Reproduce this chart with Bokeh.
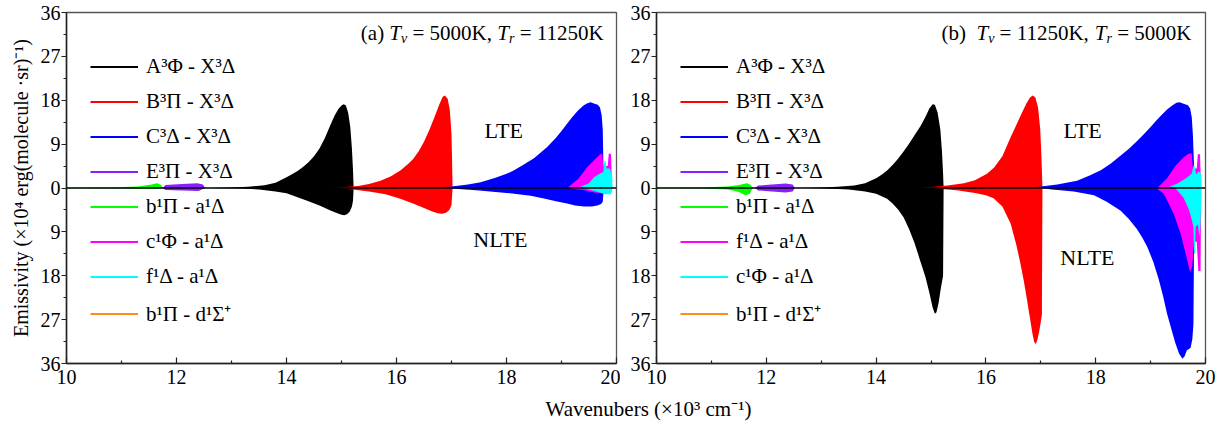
from bokeh.plotting import figure
from bokeh.models import (FixedTicker, CustomJSTickFormatter, Span, Legend, LegendItem,
                          ColumnDataSource, Label, Range1d)
from bokeh.layouts import column, row
from bokeh.core.properties import value
from bokeh.embed import file_html
from bokeh.resources import INLINE

SERIF = "Liberation Serif"

# Axis ticks: wavenumber (x10^3 cm^-1) and emissivity magnitude (x10^4)
x_major = [10, 12, 14, 16, 18, 20]
x_minor = [11, 13, 15, 17, 19]
y_major = [-36, -27, -18, -9, 0, 9, 18, 27, 36]
y_minor = [-31.5, -22.5, -13.5, -4.5, 4.5, 13.5, 22.5, 31.5]

band_colors = ["#000000", "#FF0000", "#0000FF", "#8B1EFF",
               "#00FF00", "#FF00FF", "#00FFFF", "#FF8C1A"]
labels_a = ["A³Φ - X³Δ", "B³Π - X³Δ", "C³Δ - X³Δ", "E³Π - X³Δ",
            "b¹Π - a¹Δ", "c¹Φ - a¹Δ", "f¹Δ - a¹Δ", "b¹Π - d¹Σ⁺"]
labels_b = ["A³Φ - X³Δ", "B³Π - X³Δ", "C³Δ - X³Δ", "E³Π - X³Δ",
            "b¹Π - a¹Δ", "f¹Δ - a¹Δ", "c¹Φ - a¹Δ", "b¹Π - d¹Σ⁺"]

# ---- Envelopes, panel (a): Tv = 5000 K, Tr = 11250 K  (wavenumber, emissivity) ----
a_black_lte = [(12.6, 0), (13.0, 0.1), (13.3, 0.25), (13.6, 0.55), (13.8, 1.1), (14.0, 2.2),
               (14.1, 2.8), (14.2, 3.5), (14.3, 4.3), (14.4, 5.3), (14.5, 6.5), (14.6, 8.1),
               (14.7, 10.3), (14.8, 13.0), (14.88, 15.0), (14.95, 16.3), (15.0, 16.9),
               (15.04, 17.2), (15.08, 16.9), (15.12, 15.5), (15.16, 12.5), (15.19, 8.0),
               (15.21, 3.5), (15.22, 0)]
a_black_nlte = [(12.6, 0), (13.2, 0.1), (13.5, 0.3), (13.8, 0.7), (14.0, 1.1), (14.2, 1.9),
                (14.4, 2.7), (14.6, 3.6), (14.8, 4.6), (14.9, 5.1), (15.0, 5.5), (15.05, 5.6),
                (15.1, 5.4), (15.15, 4.8), (15.19, 3.8), (15.21, 2.5), (15.22, 0)]
a_red_lte = [(14.8, 0), (15.0, 0.15), (15.3, 0.4), (15.5, 0.8), (15.71, 1.5), (15.9, 2.4),
             (16.07, 3.6), (16.2, 4.8), (16.3, 5.9), (16.4, 7.5), (16.5, 9.5), (16.6, 12.0),
             (16.7, 14.8), (16.78, 17.2), (16.84, 18.7), (16.88, 19.0), (16.93, 18.3),
             (16.97, 16.0), (17.0, 11.0), (17.01, 6.0), (17.02, 0)]
a_red_nlte = [(15.0, 0), (15.2, 0.3), (15.5, 0.7), (15.8, 1.3), (16.07, 2.2), (16.3, 3.2),
              (16.5, 4.1), (16.65, 4.8), (16.75, 5.2), (16.83, 5.3), (16.9, 5.1),
              (16.96, 4.5), (17.0, 3.5), (17.02, 0)]
a_blue_lte = [(16.8, 0), (17.0, 0.3), (17.3, 0.7), (17.53, 1.2), (17.8, 2.1), (18.0, 2.9),
              (18.13, 3.6), (18.3, 4.7), (18.5, 6.1), (18.74, 8.4), (18.9, 10.3),
              (19.0, 11.7), (19.1, 13.2), (19.2, 14.6), (19.3, 15.9), (19.4, 16.9),
              (19.47, 17.4), (19.53, 17.6), (19.6, 17.3), (19.66, 17.1), (19.7, 16.5),
              (19.73, 15.0), (19.75, 12.0), (19.76, 6.0), (19.77, 0)]
a_blue_nlte = [(16.9, 0), (17.0, 0.1), (17.5, 0.5), (18.0, 1.0), (18.44, 1.6), (18.7, 2.2),
               (18.9, 2.7), (19.1, 3.2), (19.25, 3.6), (19.41, 3.8), (19.55, 3.8),
               (19.65, 3.6), (19.72, 3.3), (19.75, 2.8), (19.77, 0)]
a_purple_lte = [(11.75, 0), (11.8, 0.6), (12.1, 0.8), (12.38, 1.0), (12.48, 0.7), (12.52, 0)]
a_purple_nlte = [(11.75, 0), (11.8, 0.4), (12.1, 0.5), (12.4, 0.6), (12.52, 0)]
a_green_lte = [(10.0, 0.05), (10.8, 0.1), (11.3, 0.3), (11.55, 0.7), (11.65, 1.0),
               (11.72, 0.6), (11.75, 0)]
a_green_nlte = [(10.0, 0.05), (11.0, 0.1), (11.6, 0.2), (11.75, 0)]
a_magenta_lte = [(19.1, 0), (19.3, 1.8), (19.47, 4.3), (19.6, 5.8), (19.71, 7.0), (19.74, 7.1),
                 (19.76, 4.5), (19.84, 4.5), (19.86, 7.1), (19.9, 7.0), (19.92, 0)]
a_magenta_nlte = [(19.1, 0), (19.4, 0.4), (19.6, 0.9), (19.8, 1.2), (19.9, 1.2), (19.92, 0)]
a_cyan_lte = [(19.3, 0), (19.5, 1.0), (19.59, 2.2), (19.7, 3.0), (19.76, 3.3), (19.78, 5.6),
              (19.8, 5.6), (19.82, 4.0), (19.88, 4.0), (19.92, 2.5), (19.93, 0)]
a_cyan_nlte = [(19.4, 0), (19.6, 0.6), (19.8, 1.3), (19.9, 1.3), (19.93, 0)]

# ---- Envelopes, panel (b): Tv = 11250 K, Tr = 5000 K ----
b_black_lte = [(12.6, 0), (13.0, 0.1), (13.3, 0.25), (13.6, 0.5), (13.8, 1.0), (14.0, 2.0),
               (14.1, 2.7), (14.2, 3.6), (14.3, 4.7), (14.4, 6.0), (14.5, 7.5), (14.6, 9.1),
               (14.7, 10.8), (14.81, 12.7), (14.9, 14.6), (14.97, 16.3), (15.03, 17.2),
               (15.07, 17.1), (15.12, 15.5), (15.17, 12.0), (15.2, 7.5), (15.22, 3.0),
               (15.23, 0)]
b_black_nlte = [(12.8, 0), (13.2, 0.15), (13.5, 0.3), (13.8, 0.7), (14.0, 1.2), (14.2, 2.2),
                (14.3, 3.2), (14.4, 4.4), (14.5, 6.0), (14.6, 8.4), (14.7, 11.3),
                (14.8, 14.8), (14.9, 18.3), (14.97, 21.5), (15.03, 24.5), (15.07, 25.8),
                (15.1, 25.5), (15.14, 23.5), (15.18, 20.5), (15.22, 18.0), (15.23, 0)]
b_red_lte = [(14.8, 0), (15.0, 0.2), (15.3, 0.5), (15.6, 1.0), (15.8, 1.6), (16.02, 2.9),
             (16.15, 4.2), (16.3, 6.5), (16.45, 10.4), (16.55, 12.8), (16.65, 15.3),
             (16.74, 17.4), (16.8, 18.5), (16.85, 19.0), (16.9, 18.6), (16.95, 16.5),
             (16.99, 12.0), (17.01, 7.0), (17.03, 0)]
b_red_nlte = [(15.0, 0), (15.2, 0.2), (15.5, 0.5), (15.8, 1.0), (16.0, 1.5), (16.14, 2.1),
              (16.3, 3.8), (16.45, 7.3), (16.55, 11.5), (16.62, 15.0), (16.69, 19.0),
              (16.75, 23.0), (16.8, 26.5), (16.85, 30.0), (16.88, 31.6), (16.91, 32.0),
              (16.94, 31.0), (16.97, 29.5), (17.0, 27.5), (17.02, 26.0), (17.03, 0)]
b_blue_lte = [(16.9, 0), (17.0, 0.3), (17.3, 0.7), (17.66, 1.5), (17.9, 2.6), (18.1, 3.7),
              (18.27, 5.0), (18.45, 6.6), (18.6, 8.0), (18.75, 9.6), (18.88, 11.1),
              (19.0, 12.5), (19.1, 13.8), (19.2, 15.0), (19.3, 16.1), (19.4, 17.0),
              (19.47, 17.5), (19.53, 17.6), (19.6, 17.3), (19.68, 17.0), (19.72, 16.3),
              (19.75, 14.5), (19.77, 11.0), (19.79, 5.0), (19.8, 0)]
b_blue_nlte = [(17.0, 0), (17.2, 0.3), (17.6, 0.7), (17.97, 1.5), (18.2, 2.8), (18.45, 4.6),
               (18.6, 6.3), (18.75, 8.4), (18.85, 10.2), (18.94, 12.1), (19.05, 15.2),
               (19.15, 18.8), (19.23, 22.3), (19.3, 25.8), (19.38, 29.0), (19.45, 31.8),
               (19.52, 34.0), (19.58, 35.0), (19.62, 34.5), (19.66, 33.3), (19.7, 33.0),
               (19.73, 32.7), (19.76, 31.0), (19.78, 28.0), (19.8, 0)]
b_purple_lte = [(11.8, 0), (11.85, 0.5), (12.1, 0.7), (12.35, 0.9), (12.48, 0.7), (12.52, 0)]
b_purple_nlte = [(11.8, 0), (11.85, 0.5), (12.1, 0.7), (12.35, 0.9), (12.48, 0.7), (12.52, 0)]
b_green_lte = [(10.0, 0.05), (10.8, 0.1), (11.3, 0.3), (11.5, 0.6), (11.65, 1.0),
               (11.72, 0.6), (11.75, 0)]
b_green_nlte = [(10.0, 0.05), (10.8, 0.1), (11.3, 0.3), (11.5, 0.8), (11.62, 1.5),
                (11.7, 1.2), (11.75, 0)]
b_magenta_lte = [(19.12, 0), (19.3, 2.0), (19.45, 4.5), (19.6, 6.3), (19.7, 7.1), (19.75, 7.1),
                 (19.77, 4.0), (19.84, 4.0), (19.86, 6.9), (19.9, 6.9), (19.92, 0)]
b_magenta_nlte = [(19.1, 0), (19.24, 1.2), (19.42, 5.3), (19.55, 9.5), (19.65, 14.0),
                  (19.72, 17.3), (19.76, 16.0), (19.79, 11.0), (19.84, 11.0), (19.87, 17.0),
                  (19.91, 17.0), (19.92, 0)]
b_cyan_lte = [(19.3, 0), (19.5, 1.0), (19.67, 2.2), (19.75, 3.0), (19.78, 4.6), (19.8, 4.6),
              (19.83, 2.8), (19.88, 3.4), (19.92, 3.0), (19.93, 0)]
b_cyan_nlte = [(19.45, 0), (19.6, 2.0), (19.7, 4.5), (19.75, 6.5), (19.78, 8.0), (19.79, 13.5),
               (19.81, 13.5), (19.82, 8.0), (19.86, 7.5), (19.89, 10.0), (19.91, 7.0),
               (19.93, 0)]

# Drawing order and colour index of each band
bands_a = [(a_green_lte, a_green_nlte, 4), (a_purple_lte, a_purple_nlte, 3),
           (a_black_lte, a_black_nlte, 0), (a_red_lte, a_red_nlte, 1),
           (a_blue_lte, a_blue_nlte, 2), (a_magenta_lte, a_magenta_nlte, 5),
           (a_cyan_lte, a_cyan_nlte, 6)]
bands_b = [(b_green_lte, b_green_nlte, 4), (b_purple_lte, b_purple_nlte, 3),
           (b_black_lte, b_black_nlte, 0), (b_red_lte, b_red_nlte, 1),
           (b_blue_lte, b_blue_nlte, 2), (b_magenta_lte, b_magenta_nlte, 5),
           (b_cyan_lte, b_cyan_nlte, 6)]

# Times-compatible advance widths (em) used to lay out the mixed-style panel titles
EM = {"(": 0.333, ")": 0.333, "a": 0.444, "b": 0.5, " ": 0.25, "=": 0.564, "K": 0.722,
      ",": 0.25, "T": 0.556, "v": 0.444, "r": 0.389}


def str_width(s, size):
    return sum(EM.get(c, 0.5) for c in s) * size


def make_panel(bands, labels, title_pieces, title_x, lte_pos, nlte_pos, width,
               border_left, border_right, y_label=None):
    p = figure(width=width, height=398, x_range=Range1d(10, 20), y_range=Range1d(-36, 36),
               toolbar_location=None, output_backend="svg",
               min_border_left=border_left, min_border_right=border_right,
               min_border_top=12, min_border_bottom=35)
    p.grid.visible = False
    p.outline_line_color = "#555555"
    p.outline_line_width = 1.3
    p.background_fill_color = "white"
    p.border_fill_color = "white"

    for lte, nlte, ci in bands:
        c = band_colors[ci]
        p.varea(x=[q[0] for q in lte], y1=[0] * len(lte), y2=[q[1] for q in lte],
                fill_color=c)
        p.varea(x=[q[0] for q in nlte], y1=[-q[1] for q in nlte], y2=[0] * len(nlte),
                fill_color=c)

    p.add_layout(Span(location=0, dimension="width", line_color="black", line_width=1.5))

    # Legend with line keys (key renderers carry no visible points)
    items = []
    for lab, c in zip(labels, band_colors):
        r = p.line(x="x", y="y",
                   source=ColumnDataSource(dict(x=[float("nan")], y=[float("nan")])),
                   line_color=c, line_width=2)
        items.append(LegendItem(label=lab, renderers=[r]))
    leg = Legend(items=items, location=(24, 36), padding=0, margin=0,
                 spacing=10, glyph_width=48, glyph_height=25, label_height=25,
                 label_standoff=8, label_text_font=SERIF, label_text_font_size="21px",
                 label_text_color="black",
                 background_fill_alpha=0, border_line_color=None)
    p.add_layout(leg)

    # Axes
    xa = p.xaxis[0]
    xa.ticker = FixedTicker(ticks=x_major, minor_ticks=x_minor)
    xa.major_tick_in, xa.major_tick_out = 6, 0
    xa.minor_tick_in, xa.minor_tick_out = 3, 0
    xa.major_label_standoff = 6
    ya = p.yaxis[0]
    ya.ticker = FixedTicker(ticks=y_major, minor_ticks=y_minor)
    ya.formatter = CustomJSTickFormatter(code="return Math.abs(tick).toFixed(0);")
    ya.major_tick_in, ya.major_tick_out = 0, 5
    ya.minor_tick_in, ya.minor_tick_out = 0, 3
    ya.major_label_standoff = 1
    for ax in (xa, ya):
        ax.axis_line_width = 1.5
        ax.axis_line_color = "#222222"
        ax.major_tick_line_color = "#222222"
        ax.minor_tick_line_color = "#222222"
        ax.major_tick_line_width = 1.2
        ax.minor_tick_line_width = 1.2
        ax.major_label_text_font = SERIF
        ax.major_label_text_font_size = "20px"
        ax.major_label_text_color = "black"
    if y_label:
        ya.axis_label = y_label
        ya.axis_label_text_font = SERIF
        ya.axis_label_text_font_size = "20px"
        ya.axis_label_text_font_style = "normal"
        ya.axis_label_text_color = "black"
        ya.axis_label_standoff = 6

    # Panel title built from pieces (italic T with subscripts)
    total = sum(str_width(s, sz) for s, _, sz, _ in title_pieces)
    cum = 0.0
    xs, ys, txt, offs, yoffs, styles, sizes = [], [], [], [], [], [], []
    for s, style, sz, yo in title_pieces:
        lead = len(s) - len(s.lstrip(" "))
        xs.append(title_x)
        ys.append(31.7)
        txt.append(s.strip(" "))
        offs.append(cum + lead * EM[" "] * sz - total)
        yoffs.append(yo)
        styles.append(style)
        sizes.append(f"{sz}px")
        cum += str_width(s, sz)
    p.text(x="x", y="y", text="t", x_offset="xo", y_offset="yo",
           text_font_style="st", text_font_size="sz",
           source=ColumnDataSource(dict(x=xs, y=ys, t=txt, xo=offs, yo=yoffs,
                                        st=styles, sz=sizes)),
           text_font=value(SERIF), text_align="left", text_baseline="middle",
           text_color="black")

    for txt_, pos in (("LTE", lte_pos), ("NLTE", nlte_pos)):
        p.add_layout(Label(x=pos[0], y=pos[1], text=txt_, text_font=SERIF,
                           text_font_size="22px", text_align="center",
                           text_baseline="middle", text_color="black"))
    return p


title_a = [("(a) ", "normal", 21, 0), ("T", "italic", 21, 0), ("v", "italic", 14, 5),
           (" = 5000K, ", "normal", 21, 0), ("T", "italic", 21, 0), ("r", "italic", 14, 5),
           (" = 11250K", "normal", 21, 0)]
title_b = [("(b)  ", "normal", 21, 0), ("T", "italic", 21, 0), ("v", "italic", 14, 5),
           (" = 11250K, ", "normal", 21, 0), ("T", "italic", 21, 0), ("r", "italic", 14, 5),
           (" = 5000K", "normal", 21, 0)]

p1 = make_panel(bands_a, labels_a, title_a, 19.78, (17.95, 11.8), (17.89, -10.6),
                620, 66, 4, y_label="Emissivity (×10⁴ erg(molecule ·sr)⁻¹)")
p2 = make_panel(bands_b, labels_b, title_b, 19.745, (17.76, 11.8), (17.85, -14.3),
                608, 36, 23)

# Shared x-axis title strip
p3 = figure(width=1228, height=29, x_range=Range1d(0, 1228), y_range=Range1d(0, 29),
            toolbar_location=None, output_backend="svg", x_axis_type=None, y_axis_type=None,
            min_border=0)
p3.grid.visible = False
p3.outline_line_color = None
p3.add_layout(Label(x=648, y=19, text="Wavenubers (×10³ cm⁻¹)", text_font=SERIF,
                    text_font_size="21px", text_align="center", text_baseline="middle",
                    text_color="black"))

layout = column(row(p1, p2), p3)
open("out.html", "w").write(file_html(layout, INLINE))
